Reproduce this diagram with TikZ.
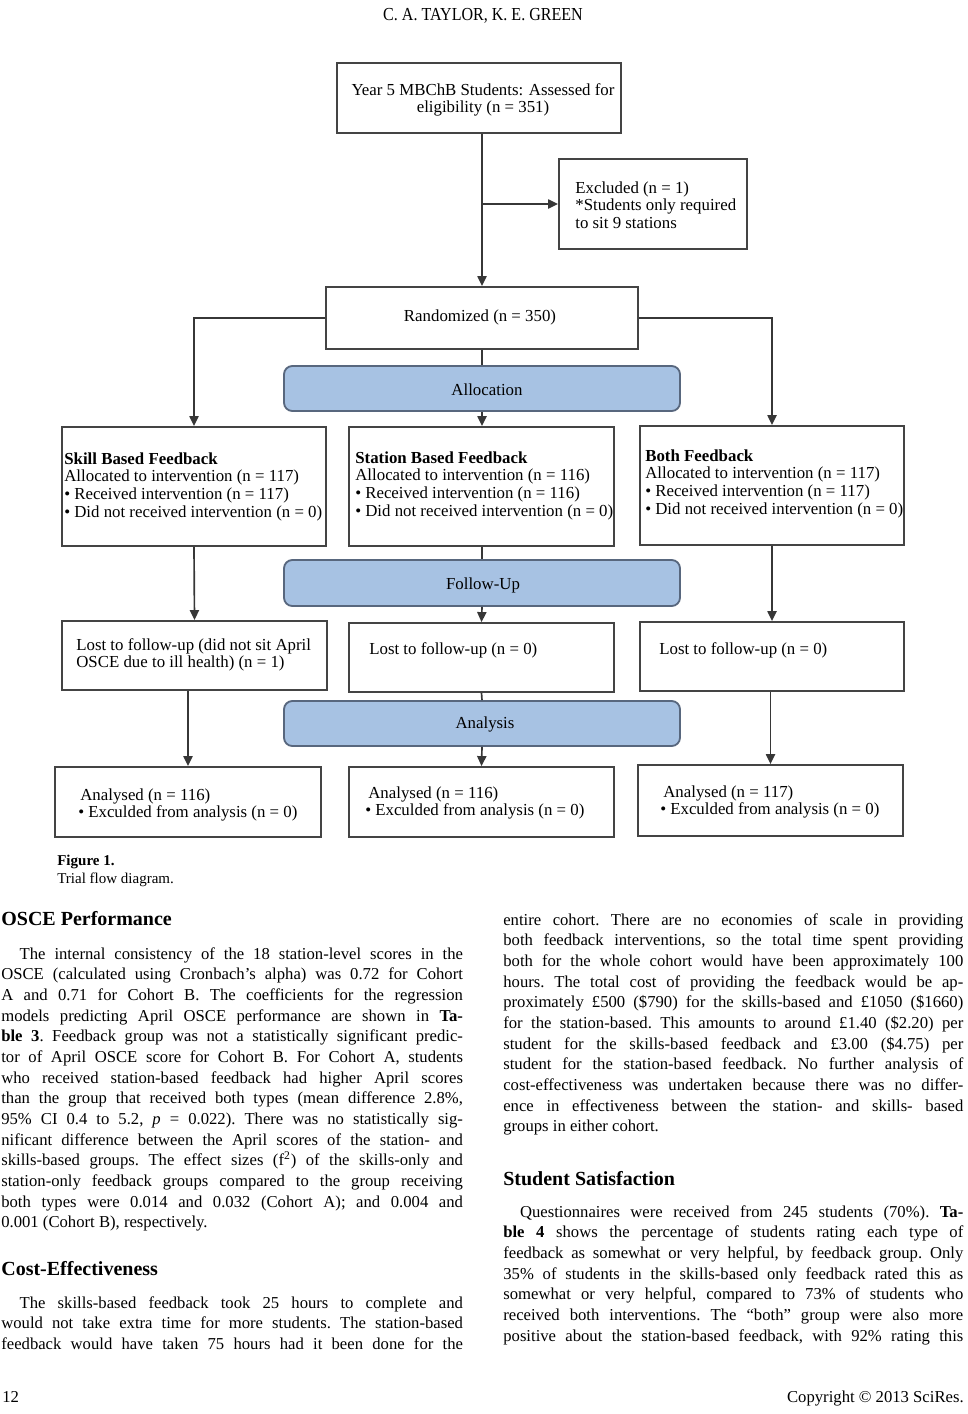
\documentclass[tikz,border=0pt]{standalone}
\usepackage{fontspec}
\usepackage{graphicx}
\setmainfont{Liberation Serif}
\usetikzlibrary{arrows.meta,fit}
\definecolor{boxgray}{RGB}{68,68,68}
\definecolor{linegray}{RGB}{55,55,55}
\definecolor{bandfill}{RGB}{167,194,227}
\definecolor{bandedge}{RGB}{88,103,126}
\newcommand{\bul}{\makebox[6pt][l]{\textbullet}}
\newcommand{\jline}[1]{\makebox[\linewidth][s]{#1}\par}
\newcommand{\eline}[1]{#1\par}
\newcommand{\diagfont}{\fontsize{10.1}{10.6}\selectfont}
\newcommand{\bodyfont}{\fontsize{10}{12.4}\selectfont\frenchspacing}
\newcommand{\headfont}{\fontsize{12}{14}\selectfont\bfseries}
\tikzset{
  box/.style={draw=boxgray, line width=1.1pt, inner sep=0pt, font=\diagfont},
  band/.style={draw=bandedge, fill=bandfill, line width=1.1pt, rounded corners=5pt, inner sep=0pt, font=\diagfont},
  txt/.style={inner sep=0pt, anchor=base west, font=\diagfont},
  ln/.style={draw=linegray, line width=1pt},
  arr/.style={ln, -{Triangle[width=5.5pt,length=6pt]}},
}
\begin{document}
\begin{tikzpicture}[x=0.6pt,y=-0.6pt]
\useasboundingbox (0,0) rectangle (967,1414);

% header
\node[txt, anchor=base] (head) at (483,20) {\scalebox{0.875}[1]{\fontsize{11}{13}\selectfont C. A. TAYLOR, K. E. GREEN}};

% ---------- flow diagram ----------
\node[box, fit={(337,63) (621,133)}] (top) {};
\node[txt, anchor=base] (topT) at (483,95) {\parbox[t]{220pt}{\centering Year 5 MBChB Students: Assessed for\\ eligibility (n = 351)}};

\node[box, fit={(559,159) (747,249)}] (excl) {};
\node[txt] (exclT) at (575,193) {\parbox[t]{150pt}{\raggedright Excluded (n = 1)\\\relax {*}Students only required\\ to sit 9 stations}};

\node[box, fit={(326,287) (638,349)}] (rand) {};
\node[txt, anchor=base] (randT) at (480,321) {Randomized (n = 350)};

\node[band, fit={(284,366) (680,411)}] (alloc) {};
\node[txt, anchor=base] (allocT) at (487,395) {Allocation};

\node[box, fit={(62,427) (326,546)}] (skill) {};
\node[txt] (skillT) at (64,464) {\parbox[t]{220pt}{\raggedright\textbf{Skill Based Feedback}\\ Allocated to intervention (n = 117)\\ \bul Received intervention (n = 117)\\ \bul Did not received intervention (n = 0)}};

\node[box, fit={(349,427) (614,546)}] (station) {};
\node[txt] (stationT) at (355,463) {\parbox[t]{220pt}{\raggedright\textbf{Station Based Feedback}\\ Allocated to intervention (n = 116)\\ \bul Received intervention (n = 116)\\ \bul Did not received intervention (n = 0)}};

\node[box, fit={(640,426) (904,545)}] (both) {};
\node[txt] (bothT) at (645,461) {\parbox[t]{220pt}{\raggedright\textbf{Both Feedback}\\ Allocated to intervention (n = 117)\\ \bul Received intervention (n = 117)\\ \bul Did not received intervention (n = 0)}};

\node[band, fit={(284,560) (680,606)}] (follow) {};
\node[txt, anchor=base] (followT) at (483,589) {Follow-Up};

\node[box, fit={(62,621) (327,690)}] (lost1) {};
\node[txt] (lost1T) at (76,650) {\parbox[t]{220pt}{\raggedright Lost to follow-up (did not sit April\\ OSCE due to ill health) (n = 1)}};

\node[box, fit={(349,623) (614,692)}] (lost2) {};
\node[txt] (lost2T) at (369,654) {Lost to follow-up (n = 0)};

\node[box, fit={(640,622) (904,691)}] (lost3) {};
\node[txt] (lost3T) at (659,654) {Lost to follow-up (n = 0)};

\node[band, fit={(284,701) (680,746)}] (analysis) {};
\node[txt, anchor=base] (analysisT) at (485,728) {Analysis};

\node[box, fit={(55,767) (321,837)}] (ana1) {};
\node[txt] (ana1T) at (78,800) {\parbox[t]{220pt}{\raggedright\hspace*{1.2pt}Analysed (n = 116)\\ \bul Exculded from analysis (n = 0)}};

\node[box, fit={(349,767) (614,837)}] (ana2) {};
\node[txt] (ana2T) at (365,798) {\parbox[t]{220pt}{\raggedright\hspace*{1.8pt}Analysed (n = 116)\\ \bul Exculded from analysis (n = 0)}};

\node[box, fit={(638,765) (903,836)}] (ana3) {};
\node[txt] (ana3T) at (660,797) {\parbox[t]{220pt}{\raggedright\hspace*{1.8pt}Analysed (n = 117)\\ \bul Exculded from analysis (n = 0)}};

% connectors
\draw[arr] (rand.north |- top.south) -- (rand.north);
\draw[arr] (rand.north |- excl.west) -- (excl.west);
\draw[arr] (rand.west) -| (skill.north);
\draw[arr] (rand.east) -| (both.north);
\draw[ln] (rand.south) -- (alloc.north);
\draw[arr] (alloc.south) -- (alloc.south |- station.north);
\draw[arr] (skill.south) -- (lost1.north);
\draw[ln] (follow.north |- station.south) -- (follow.north);
\draw[arr] (follow.south) -- (lost2.north);
\draw[arr] (both.south) -- (lost3.north);
\draw[arr] (ana1.north |- lost1.south) -- (ana1.north);
\draw[ln] (lost2.south) -- (analysis.north);
\draw[arr] (analysis.south) -- (ana2.north);
\draw[arr] (ana3.north |- lost3.south) -- (ana3.north);

% caption
\node[txt, font=\fontsize{9}{10.8}\selectfont\bfseries] (figlab) at (57,865) {Figure 1.};
\node[txt, font=\fontsize{9}{10.8}\selectfont] (figcap) at (57,883) {Trial flow diagram.};

% ---------- body text, left column ----------
\node[txt, font=\headfont] (headA) at (1,925) {OSCE Performance};
\node[txt, font=\bodyfont] (paraA) at (1,959) {\parbox[t]{277pt}{\setlength{\parindent}{0pt}%
\jline{\hspace*{11pt}The internal consistency of the 18 station-level scores in the}
\jline{OSCE (calculated using Cronbach’s alpha) was 0.72 for Cohort}
\jline{A and 0.71 for Cohort B. The coefficients for the regression}
\jline{models predicting April OSCE performance are shown in \textbf{Ta-}}
\jline{\textbf{ble 3}. Feedback group was not a statistically significant predic-}
\jline{tor of April OSCE score for Cohort B. For Cohort A, students}
\jline{who received station-based feedback had higher April scores}
\jline{than the group that received both types (mean difference 2.8\%,}
\jline{95\% CI 0.4 to 5.2, \textit{p} = 0.022). There was no statistically sig-}
\jline{nificant difference between the April scores of the station- and}
\jline{skills-based groups. The effect sizes (f\textsuperscript{2}) of the skills-only and}
\jline{station-only feedback groups compared to the group receiving}
\jline{both types were 0.014 and 0.032 (Cohort A); and 0.004 and}
\eline{0.001 (Cohort B), respectively.}}};

\node[txt, font=\headfont] (headB) at (1,1275) {Cost-Effectiveness};
\node[txt, font=\bodyfont] (paraB) at (1,1308) {\parbox[t]{277pt}{\setlength{\parindent}{0pt}%
\jline{\hspace*{11pt}The skills-based feedback took 25 hours to complete and}
\jline{would not take extra time for more students. The station-based}
\jline{feedback would have taken 75 hours had it been done for the}}};

% ---------- body text, right column ----------
\node[txt, font=\bodyfont] (paraC) at (503,925) {\parbox[t]{276pt}{\setlength{\parindent}{0pt}%
\jline{entire cohort. There are no economies of scale in providing}
\jline{both feedback interventions, so the total time spent providing}
\jline{both for the whole cohort would have been approximately 100}
\jline{hours. The total cost of providing the feedback would be ap-}
\jline{proximately £500 (\$790) for the skills-based and £1050 (\$1660)}
\jline{for the station-based. This amounts to around £1.40 (\$2.20) per}
\jline{student for the skills-based feedback and £3.00 (\$4.75) per}
\jline{student for the station-based feedback. No further analysis of}
\jline{cost-effectiveness was undertaken because there was no differ-}
\jline{ence in effectiveness between the station- and skills- based}
\eline{groups in either cohort.}}};

\node[txt, font=\headfont] (headC) at (503,1185) {Student Satisfaction};
\node[txt, font=\bodyfont] (paraD) at (503,1217) {\parbox[t]{276pt}{\setlength{\parindent}{0pt}%
\jline{\hspace*{10pt}Questionnaires were received from 245 students (70\%). \textbf{Ta-}}
\jline{\textbf{ble 4} shows the percentage of students rating each type of}
\jline{feedback as somewhat or very helpful, by feedback group. Only}
\jline{35\% of students in the skills-based only feedback rated this as}
\jline{somewhat or very helpful, compared to 73\% of students who}
\jline{received both interventions. The “both” group were also more}
\jline{positive about the station-based feedback, with 92\% rating this}}};

% footer
\node[txt, font=\bodyfont] (pageno) at (2,1402) {12};
\node[txt, font=\bodyfont, anchor=base east] (copy) at (964,1402) {Copyright © 2013 SciRes.};
\end{tikzpicture}
\end{document}
